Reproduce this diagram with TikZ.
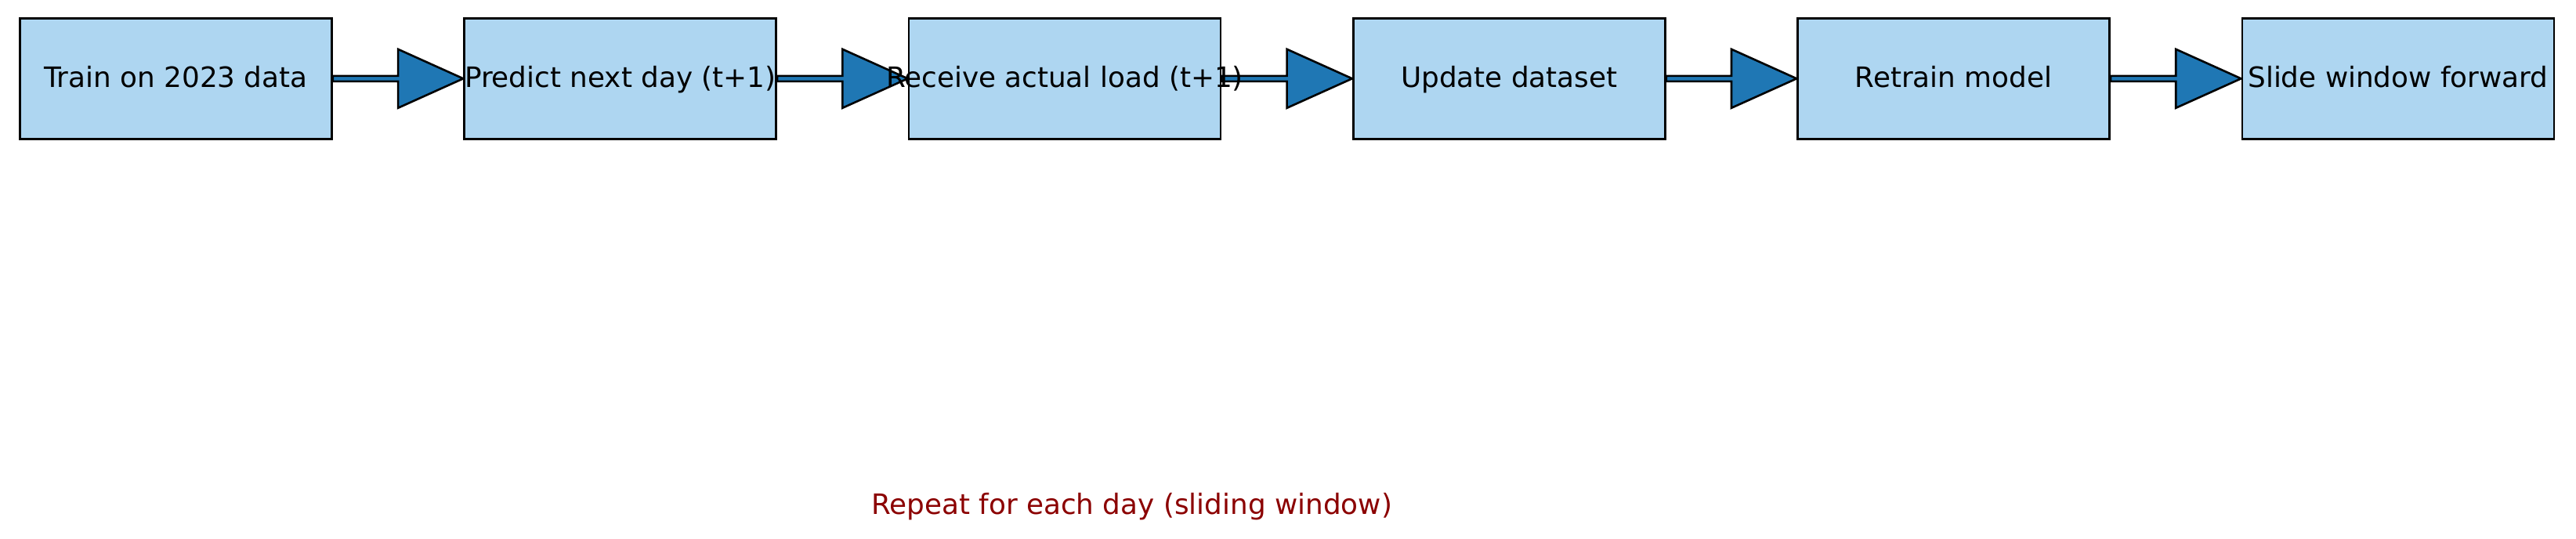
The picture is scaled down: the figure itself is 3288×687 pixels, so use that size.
\documentclass[tikz,border=0pt]{standalone}
\usepackage{fontspec}
\setmainfont{DejaVu Sans}
\usetikzlibrary{calc,backgrounds}
\definecolor{boxfill}{HTML}{AED6F1}
\definecolor{arrowfill}{HTML}{1F77B4}
\definecolor{noteRed}{HTML}{8B0000}
\newcommand{\fixw}[1]{\makebox[90pt][c]{#1}}
\tikzset{
  stepbox/.style={draw=black, line width=0.7pt, fill=boxfill, rectangle,
    minimum width=99.5pt, minimum height=38.5pt, inner sep=0pt,
    text height=7pt, text depth=1.3pt,
    font=\fontsize{8.95}{10.7}\selectfont},
  fatarrow/.style={draw=black, line width=0.65pt, fill=arrowfill, line join=miter},
  note/.style={text=noteRed, inner sep=0pt, font=\fontsize{8.95}{10.7}\selectfont}
}
\newcommand{\fatarrowbetween}[2]{%
  \path let \p1=(#1.east), \p2=(#2.west) in
    coordinate (m) at ($(\p1)!0.5!(\p2)$);
  \draw[fatarrow] ($(#1.east)+(0,-3.5)$) -- ($(m)+(0,-3.5)$) -- ($(m)+(0,-37.5)$)
    -- (#2.west) -- ($(m)+(0,37.5)$) -- ($(m)+(0,3.5)$) -- ($(#1.east)+(0,3.5)$) -- cycle;
}
\begin{document}
\begin{tikzpicture}[x=0.25pt,y=-0.25pt]
\useasboundingbox (0,0) rectangle (3288,687);
\node[stepbox] (b1) at (224.4,100.3) {\fixw{Train on 2023 data}};
\node[stepbox] (b2) at (791.7,100.3) {\fixw{Predict next day (t+1)}};
\node[stepbox] (b3) at (1359.0,100.3) {\fixw{Receive actual load (t+1)}};
\node[stepbox] (b4) at (1926.3,100.3) {\fixw{Update dataset}};
\node[stepbox] (b5) at (2493.6,100.3) {\fixw{Retrain model}};
\node[stepbox] (b6) at (3060.9,100.3) {\fixw{Slide window forward}};
\begin{scope}[on background layer]
\fatarrowbetween{b1}{b2}
\fatarrowbetween{b2}{b3}
\fatarrowbetween{b3}{b4}
\fatarrowbetween{b4}{b5}
\fatarrowbetween{b5}{b6}
\end{scope}
\node[note, anchor=base] (rep) at (1444.5,656.7) {Repeat for each day (sliding window)};
\end{tikzpicture}
\end{document}
